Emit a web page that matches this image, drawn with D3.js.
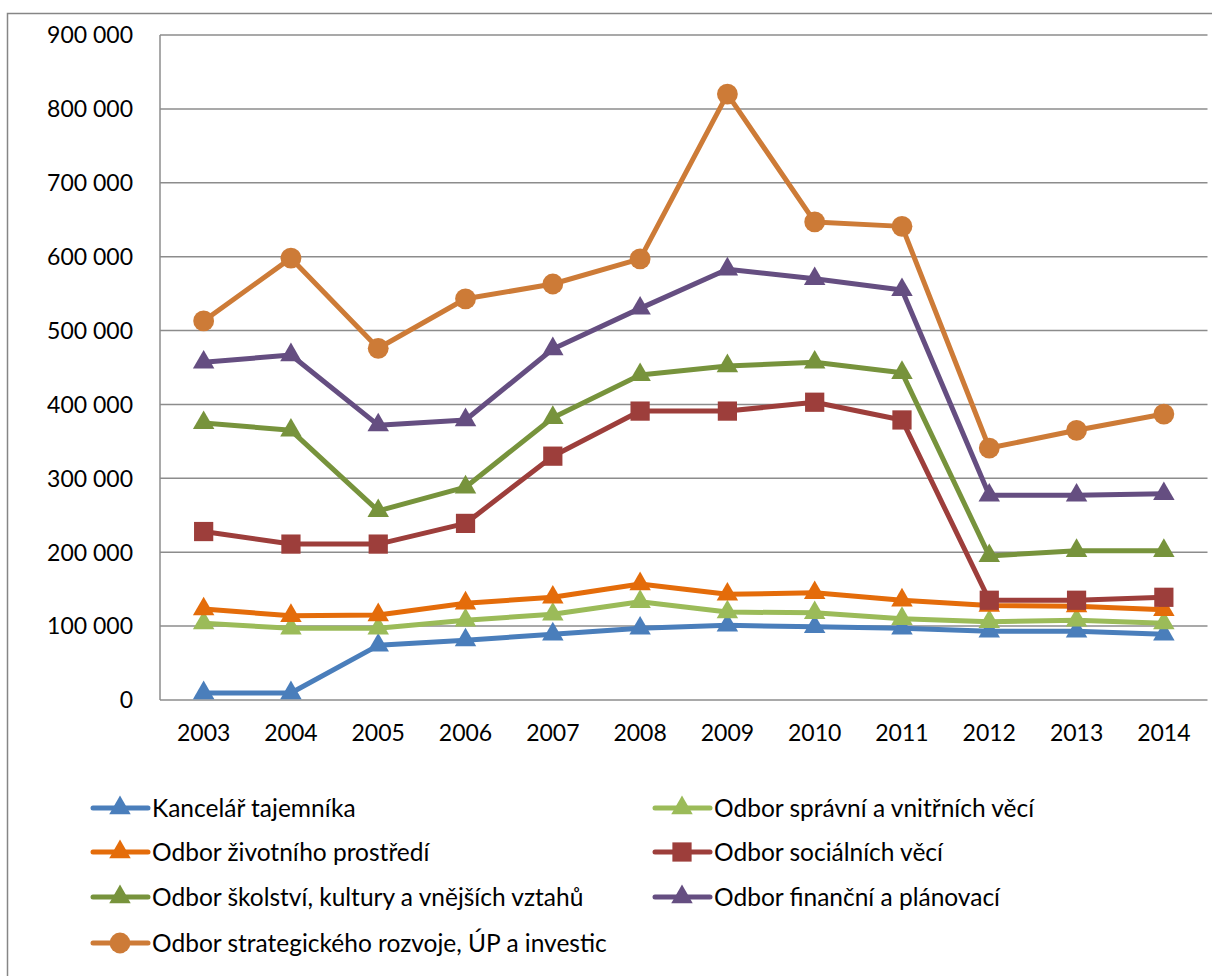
<!DOCTYPE html>
<html>
<head>
<meta charset="utf-8">
<script src="https://cdn.jsdelivr.net/npm/d3@7"></script>
<style>
  body { margin: 0; background: #fff; }
  text { font-family: Lato, "Open Sans", sans-serif; fill: #000; }
</style>
</head>
<body>
<div id="chart"></div>
<script>
const years = ['2003', '2004', '2005', '2006', '2007', '2008', '2009', '2010', '2011', '2012', '2013', '2014'];
const yTicks = [0, 100000, 200000, 300000, 400000, 500000, 600000, 700000, 800000, 900000];

const kancelar = [9500, 9500, 74000, 81000, 89000, 97000, 101000, 99000, 97000, 93000, 93000, 89000];
const spravni = [104000, 97000, 97000, 108000, 116000, 133000, 119000, 118000, 110000, 106000, 108000, 104000];
const zivotni = [123000, 114000, 115000, 131000, 139000, 157000, 143000, 145000, 135000, 128000, 127000, 122000];
const socialni = [228000, 211000, 211000, 239000, 330000, 391000, 391000, 403000, 379000, 135000, 135000, 139000];
const skolstvi = [375000, 365000, 256000, 288000, 382000, 440000, 452000, 457000, 443000, 195000, 202000, 202000];
const financni = [457000, 467000, 372000, 379000, 475000, 530000, 583000, 570000, 555000, 277000, 277000, 279000];
const strategie = [513000, 598000, 476000, 543000, 563000, 597000, 820000, 647000, 641000, 341000, 365000, 387000];

const series = [
  { label: 'Kancelář tajemníka', color: '#4a7ebb', marker: 'triangle', values: kancelar },
  { label: 'Odbor správní a vnitřních věcí', color: '#9bbb59', marker: 'triangle', values: spravni },
  { label: 'Odbor životního prostředí', color: '#e46c0a', marker: 'triangle', values: zivotni },
  { label: 'Odbor sociálních věcí', color: '#9d3e3b', marker: 'square', values: socialni },
  { label: 'Odbor školství, kultury a vnějších vztahů', color: '#77933c', marker: 'triangle', values: skolstvi },
  { label: 'Odbor finanční a plánovací', color: '#654e81', marker: 'triangle', values: financni },
  { label: 'Odbor strategického rozvoje, ÚP a investic', color: '#cd7b37', marker: 'circle', values: strategie },
];

const width = 1212;
const height = 976;
const margin = { top: 35, right: 4.5, bottom: 276, left: 160 };

const svg = d3.select('#chart').append('svg')
  .attr('width', width)
  .attr('height', height);

// outer chart frame (runs off the right and bottom edge)
svg.append('rect')
  .attr('x', 7.5).attr('y', 13.5)
  .attr('width', 1230).attr('height', 1000)
  .attr('fill', 'none')
  .attr('stroke', '#868686')
  .attr('stroke-width', 1.5);

const x = d3.scaleBand().domain(years).range([margin.left, width - margin.right]).padding(0);
const y = d3.scaleLinear().domain([0, 900000]).range([height - margin.bottom, margin.top]);

const fmt = d3.formatLocale({ decimal: ',', thousands: '\u00a0', grouping: [3], currency: ['', ''] }).format(',d');

// horizontal gridlines
svg.append('g')
  .selectAll('line')
  .data(yTicks)
  .join('line')
    .attr('x1', margin.left)
    .attr('x2', width - margin.right)
    .attr('y1', d => y(d))
    .attr('y2', d => y(d))
    .attr('stroke', '#8c8c8c')
    .attr('stroke-width', 1.5);

// left axis line
svg.append('line')
  .attr('x1', margin.left).attr('x2', margin.left)
  .attr('y1', y(900000)).attr('y2', y(0))
  .attr('stroke', '#8c8c8c')
  .attr('stroke-width', 1.5);

// y tick labels
svg.append('g')
  .selectAll('text')
  .data(yTicks)
  .join('text')
    .attr('x', 133)
    .attr('y', d => y(d))
    .attr('dy', '0.36em')
    .attr('text-anchor', 'end')
    .attr('font-size', '23px')
    .text(d => fmt(d));

// x tick labels
svg.append('g')
  .selectAll('text')
  .data(years)
  .join('text')
    .attr('x', d => x(d) + x.bandwidth() / 2)
    .attr('y', 733)
    .attr('dy', '0.36em')
    .attr('text-anchor', 'middle')
    .attr('font-size', '23px')
    .text(d => d);

const symbolFor = {
  triangle: d3.symbol(d3.symbolTriangle, 200),
  square: d3.symbol(d3.symbolSquare, 370),
  circle: d3.symbol(d3.symbolCircle, 340),
};

const drawLine = d3.line()
  .x((d, i) => x(years[i]) + x.bandwidth() / 2)
  .y(d => y(d));

series.forEach(s => {
  const g = svg.append('g');
  g.append('path')
    .datum(s.values)
    .attr('fill', 'none')
    .attr('stroke', s.color)
    .attr('stroke-width', 5)
    .attr('stroke-linejoin', 'round')
    .attr('stroke-linecap', 'round')
    .attr('d', drawLine);

  g.selectAll('path.marker')
    .data(s.values)
    .join('path')
      .attr('class', 'marker')
      .attr('transform', (d, i) => `translate(${x(years[i]) + x.bandwidth() / 2},${y(d)})`)
      .attr('fill', s.color)
      .attr('d', symbolFor[s.marker]());
});

// legend: two columns, filled row by row
const legendCols = [93, 655];
const legendRows = [808, 852, 897, 943];

const legend = svg.append('g')
  .selectAll('g')
  .data(series)
  .join('g')
    .attr('transform', (d, i) => `translate(${legendCols[i % 2]},${legendRows[Math.floor(i / 2)]})`);

legend.append('line')
  .attr('x1', 0).attr('x2', 55)
  .attr('stroke', d => d.color)
  .attr('stroke-width', 5)
  .attr('stroke-linecap', 'round');

legend.append('path')
  .attr('transform', 'translate(27,0)')
  .attr('fill', d => d.color)
  .attr('d', d => symbolFor[d.marker]());

legend.append('text')
  .attr('x', 59)
  .attr('dy', '0.36em')
  .attr('font-size', '24.5px')
  .text(d => d.label);
</script>
</body>
</html>
